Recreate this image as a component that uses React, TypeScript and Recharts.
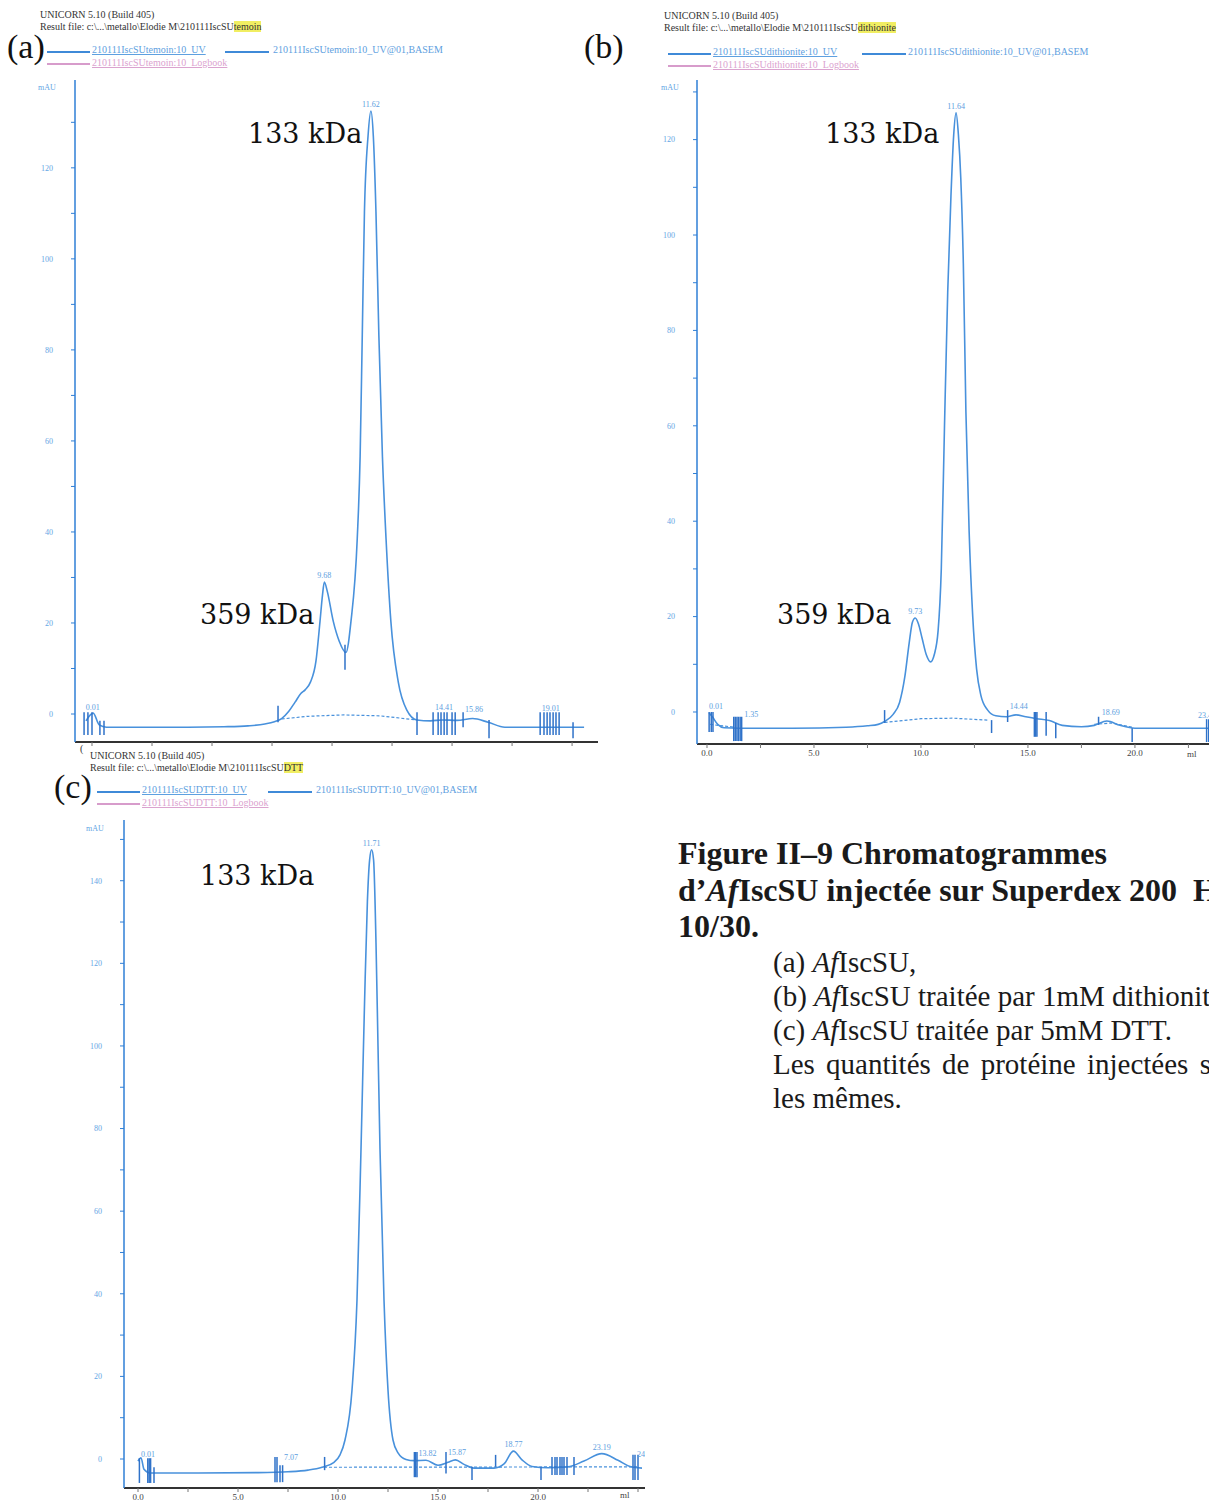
import React from 'react';
import { ComposedChart, Line, XAxis, YAxis, ReferenceLine, Scatter } from 'recharts';

// ---------- Panel (a) : AfIscSU (temoin) ----------
const mlA = [-0.25, 0.05, 0.3, 0.6, 2.0, 4.0, 5.5, 6.5, 7.2, 7.6, 7.9, 8.2, 8.46, 8.7, 8.88, 9.1, 9.33, 9.5, 9.6, 9.68, 9.8, 10.05, 10.3, 10.58, 10.79, 11.05, 11.17, 11.26, 11.35, 11.5, 11.62, 11.72, 11.83, 11.95, 12.1, 12.25, 12.45, 12.76, 13.11, 13.53, 14.1, 14.6, 15.2, 15.86, 16.5, 17.2, 18.0, 20.5];
const uvA = [-1.5, 0.2, -2.4, -2.9, -2.9, -2.9, -2.8, -2.6, -2.2, -1.7, -1.0, 0.6, 2.6, 4.5, 5.3, 7.0, 11.6, 20.4, 26.0, 29.0, 27.0, 20.4, 16.0, 13.5, 20.4, 38.5, 56.5, 83.3, 110.3, 127, 132.5, 127, 110.3, 83.3, 56.5, 38.5, 20.4, 7.0, 0.9, -1.3, -1.5, -1.3, -1.4, -1.0, -1.8, -2.9, -2.9, -2.9];
const baseMlA = [7.9, 9.0, 10.5, 12.0, 13.5];
const baseUvA = [-1.1, -0.5, -0.2, -0.4, -1.3];
const markMlA = [-0.33, -0.17, 0, 0.33, 0.5, 7.75, 10.54, 13.54, 14.21, 14.42, 14.54, 14.67, 14.79, 15.0, 15.13, 15.46, 16.54, 18.67, 18.83, 18.96, 19.08, 19.21, 19.33, 19.46, 20.04];
const markTopA = [0.4, 0.4, 0.4, -1.5, -1.5, 1.8, 15.2, 0.4, 0.4, 0.4, 0.4, 0.4, 0.4, 0.4, 0.4, 0.4, -1.3, 0.4, 0.4, 0.4, 0.4, 0.4, 0.4, 0.4, -1.8];
const markBotA = [-4.6, -4.6, -4.6, -4.6, -4.6, -1.8, 9.7, -4.6, -4.6, -4.6, -4.6, -4.6, -4.6, -4.6, -4.6, -2.9, -5.3, -4.6, -4.6, -4.6, -4.6, -4.6, -4.6, -4.6, -5.3];
const peaksA: [number, number, string][] = [[9.68, 29.0, '9.68'], [11.62, 132.5, '11.62']];
const fracsA: [number, number, string][] = [[-0.3, 0.6, '0.01'], [14.25, 0.6, '14.41'], [15.5, 0.2, '15.86'], [18.7, 0.4, '19.01']];

// ---------- Panel (b) : dithionite ----------
const mlB = [0.1, 0.25, 0.5, 0.8, 1.5, 4.0, 6.5, 7.5, 8.0, 8.3, 8.7, 9.0, 9.25, 9.45, 9.6, 9.73, 9.88, 10.05, 10.25, 10.45, 10.62, 10.8, 10.95, 11.1, 11.25, 11.4, 11.53, 11.64, 11.75, 11.86, 11.98, 12.1, 12.25, 12.42, 12.6, 12.8, 13.1, 13.5, 14.0, 14.44, 14.9, 15.4, 16.0, 16.6, 17.5, 18.1, 18.69, 19.3, 20.0, 24.5];
const uvB = [-0.2, -1.0, -2.6, -3.3, -3.4, -3.4, -3.2, -2.9, -2.6, -2.0, -0.5, 2.0, 7.5, 14.5, 18.8, 19.7, 18.5, 15.5, 12.0, 10.5, 12.0, 17.0, 30.0, 60.0, 88.0, 108.0, 121.0, 125.6, 121.0, 112.0, 94.0, 63.0, 38.0, 20.0, 9.0, 3.5, 0.5, -0.8, -1.0, -0.6, -1.0, -1.4, -1.8, -2.8, -3.1, -2.8, -1.9, -2.8, -3.4, -3.4];
const baseMlB = [0.15, 1.3, 1.31, 8.3, 10.0, 11.5, 13.1, 13.11, 18.1, 18.9, 19.9];
const baseUvB: (number | null)[] = [-2.6, -3.2, null, -2.2, -1.4, -1.3, -1.7, null, -2.6, -2.3, -3.2];
const markMlB = [0.1, 0.2, 0.28, 1.25, 1.32, 1.4, 1.47, 1.55, 1.62, 8.3, 13.3, 14.05, 15.3, 15.36, 15.42, 15.85, 16.3, 18.3, 19.87, 23.35, 23.45, 23.55];
const markTopB = [0, 0, 0, -1.0, -1.0, -1.0, -1.0, -1.0, -1.0, 0.4, -1.7, 0.4, 0, 0, 0, 0, -2.3, -1.0, -3.4, -1.5, -1.5, -1.5];
const markBotB = [-4.2, -4.2, -4.2, -6.1, -6.1, -6.1, -6.1, -6.1, -6.1, -2.3, -4.4, -2.1, -5.2, -5.2, -5.2, -5.0, -5.5, -2.7, -6.3, -6.3, -6.3, -6.3];
const peaksB: [number, number, string][] = [[9.73, 19.7, '9.73'], [11.64, 125.6, '11.64']];
const fracsB: [number, number, string][] = [[0.05, 0.4, '0.01'], [1.7, -1.2, '1.35'], [14.1, 0.4, '14.44'], [18.4, -0.8, '18.69'], [22.9, -1.5, '23.46']];

// ---------- Panel (c) : DTT ----------
const mlC = [0.0, 0.15, 0.3, 0.6, 3.0, 6.0, 7.5, 8.5, 9.2, 9.8, 10.1, 10.35, 10.7, 10.95, 11.15, 11.33, 11.47, 11.58, 11.68, 11.78, 11.9, 12.0, 12.1, 12.3, 12.5, 12.75, 13.0, 13.4, 13.82, 14.4, 15.0, 15.5, 15.87, 16.3, 16.8, 17.8, 18.3, 18.77, 19.2, 19.7, 20.5, 21.5, 22.3, 23.19, 24.0, 24.6, 25.2];
const uvC = [-0.5, 0.3, -2.5, -3.4, -3.4, -3.3, -3.1, -2.7, -2.0, -0.8, 1.0, 4.6, 16.7, 38.5, 75.0, 111.0, 135.0, 145.0, 147.5, 145.0, 125.0, 100.0, 75.0, 38.5, 16.7, 4.6, 1.5, -0.1, -0.4, -0.3, -1.5, -0.8, -0.2, -1.3, -2.2, -2.2, -1.2, 1.9, -0.2, -1.8, -2.1, -1.9, -0.5, 1.3, -0.3, -1.8, -2.2];
const baseMlC = [9.3, 25.0];
const baseUvC = [-2.0, -1.9];
const markMlC = [0.07, 0.49, 0.56, 0.63, 0.8, 6.85, 6.95, 7.1, 7.23, 9.33, 13.82, 13.88, 13.95, 15.4, 16.7, 17.88, 20.15, 20.7, 20.85, 20.95, 21.1, 21.2, 21.3, 21.45, 21.8, 24.75, 24.85, 25.0];
const markTopC = [0.2, 0.2, 0.2, 0.2, -2.0, 0.5, 0.5, -1.5, -1.5, 0.5, 1.7, 1.7, 1.7, 1.7, -1.9, 1.0, -1.9, 0.5, 0.5, 0.5, 0.5, 0.5, 0.5, 0.5, 0.5, 1.0, 1.0, 1.0];
const markBotC = [-5.8, -5.8, -5.8, -5.8, -5.8, -5.6, -5.6, -5.6, -5.6, -2.7, -4.4, -4.4, -4.4, -3.5, -5.1, -1.9, -5.1, -3.9, -3.9, -3.9, -3.9, -3.9, -3.9, -3.9, -3.9, -5.1, -5.1, -5.1];
const peaksC: [number, number, string][] = [[11.68, 147.5, '11.71'], [18.77, 1.9, '18.77'], [23.19, 1.3, '23.19']];
const fracsC: [number, number, string][] = [[0.1, 0.3, '0.01'], [7.25, -0.5, '7.07'], [13.98, 0.5, '13.82'], [15.45, 0.8, '15.87'], [24.9, 0.3, '24.77']];

// ---------- axis ticks ----------
const xTicksA = [0, 2.5, 5, 7.5, 10, 12.5, 15, 17.5, 20];
const xTicksB = [0, 2.5, 5, 7.5, 10, 12.5, 15, 17.5, 20, 22.5];
const xTicksC = [0, 2.5, 5, 7.5, 10, 12.5, 15, 17.5, 20, 22.5, 25];
const xLabelMax = 20;
const yTicksAB = [0, 10, 20, 30, 40, 50, 60, 70, 80, 90, 100, 110, 120, 130];
const yTicksC = [0, 10, 20, 30, 40, 50, 60, 70, 80, 90, 100, 110, 120, 130, 140, 150];

const CURVE = '#4891dc';
const MARK = '#2f72c9';
const LBL = '#5c9ee0';
const YAX = '#2f7fd6';
const SERIF = '"Liberation Serif", "Times New Roman", serif';

const PeakText = (p: any) => (
  <text x={p.cx} y={p.cy - 4} textAnchor="middle" fontSize={8} fill={LBL} fontFamily={SERIF}>{p.payload.t}</text>
);
const FracText = (p: any) => (
  <text x={p.cx + 1} y={p.cy - 1} textAnchor="start" fontSize={8} fill={LBL} fontFamily={SERIF}>{p.payload.t}</text>
);

type PanelProps = {
  left: number; top: number; width: number; height: number;
  xDomain: [number, number]; yDomain: [number, number];
  xTicks: number[]; yTicks: number[]; showX: boolean;
  ml: number[]; uv: number[]; baseMl: number[]; baseUv: (number | null)[];
  markMl: number[]; markTop: number[]; markBot: number[];
  peaks: [number, number, string][]; fracs: [number, number, string][];
};

function Panel(p: PanelProps) {
  const rows = p.ml.map((m, i) => ({ ml: m, uv: p.uv[i] }));
  const base = p.baseMl.map((m, i) => ({ ml: m, uv: p.baseUv[i] }));
  const peakRows = p.peaks.map(([m, v, t]) => ({ ml: m, uv: v, t }));
  const fracRows = p.fracs.map(([m, v, t]) => ({ ml: m, uv: v, t }));
  return (
    <div style={{ position: 'absolute', left: p.left, top: p.top }}>
      <ComposedChart width={p.width} height={p.height} data={rows} margin={{ top: 10, right: 10, bottom: 0, left: 0 }}>
        <XAxis type="number" dataKey="ml" domain={p.xDomain} allowDataOverflow ticks={p.xTicks} interval={0}
          tickFormatter={(v: number) => (p.showX && v % 5 === 0 && v <= xLabelMax ? v.toFixed(1) : '')}
          tick={{ fontSize: 9, fill: '#444', fontFamily: SERIF }} tickSize={4}
          axisLine={{ stroke: '#333', strokeWidth: 2 }} tickLine={{ stroke: '#777' }} height={25} />
        <YAxis type="number" domain={p.yDomain} allowDataOverflow ticks={p.yTicks} interval={0} width={50}
          tickFormatter={(v: number) => (v % 20 === 0 ? String(v) : '')}
          tick={{ fontSize: 8, fill: '#64a5e4', fontFamily: SERIF }} tickSize={4} tickMargin={18}
          axisLine={{ stroke: YAX, strokeWidth: 1.5 }} tickLine={{ stroke: YAX }} />
        <Line data={base} dataKey="uv" stroke={CURVE} strokeWidth={1.2} strokeDasharray="3 2" dot={false} isAnimationActive={false} connectNulls={false} />
        <Line dataKey="uv" stroke={CURVE} strokeWidth={1.6} dot={false} isAnimationActive={false} type="monotone" />
        {p.markMl.map((m, i) => (
          <ReferenceLine key={'mk' + i} segment={[{ x: m, y: p.markTop[i] }, { x: m, y: p.markBot[i] }]} stroke={MARK} strokeWidth={1.5} ifOverflow="visible" />
        ))}
        <Scatter data={peakRows} dataKey="uv" shape={PeakText} isAnimationActive={false} />
        <Scatter data={fracRows} dataKey="uv" shape={FracText} isAnimationActive={false} />
      </ComposedChart>
    </div>
  );
}

const T = (props: { x: number; y: number; size: number; children: React.ReactNode; family?: string; color?: string; weight?: number; style?: React.CSSProperties }) => (
  <div style={{ position: 'absolute', left: props.x, top: props.y, fontSize: props.size, lineHeight: 1, fontFamily: props.family || SERIF, color: props.color || '#111', fontWeight: props.weight || 400, whiteSpace: 'nowrap', ...(props.style || {}) }}>{props.children}</div>
);

const PATH = 'Result file: c:\\...\\metallo\\Elodie M\\210111IscSU';

function Header({ x, y, hl }: { x: number; y: number; hl: string }) {
  return (
    <div style={{ position: 'absolute', left: x, top: y, fontFamily: SERIF, fontSize: 10, lineHeight: '12px', color: '#333', whiteSpace: 'nowrap' }}>
      <div>UNICORN 5.10 (Build 405)</div>
      <div>{PATH}<span style={{ background: '#f1ee62' }}>{hl}</span></div>
    </div>
  );
}

function Legend({ x, y, name, l2, t2 }: { x: number; y: number; name: string; l2: number; t2: number }) {
  const txt: React.CSSProperties = { position: 'absolute', fontFamily: SERIF, fontSize: 10, lineHeight: '10px', whiteSpace: 'nowrap' };
  return (
    <div style={{ position: 'absolute', left: x, top: y, width: 10, height: 10 }}>
      <div style={{ position: 'absolute', left: 0, top: 0, width: 43, height: 1.5, background: '#3f8ad8' }} />
      <div style={{ ...txt, left: 45, top: -6, color: '#5ea0e0', textDecoration: 'underline' }}>{`210111IscSU${name}:10_UV`}</div>
      <div style={{ position: 'absolute', left: l2, top: 0, width: 44, height: 1.5, background: '#3f8ad8' }} />
      <div style={{ ...txt, left: t2, top: -6, color: '#5ea0e0' }}>{`210111IscSU${name}:10_UV@01,BASEM`}</div>
      <div style={{ position: 'absolute', left: 0, top: 12, width: 43, height: 1.5, background: '#d79ccb' }} />
      <div style={{ ...txt, left: 45, top: 7, color: '#dba3cf', textDecoration: 'underline' }}>{`210111IscSU${name}:10_Logbook`}</div>
    </div>
  );
}

export default function App() {
  return (
    <div style={{ position: 'absolute', left: 0, top: 0, width: 1209, height: 1501, overflow: 'hidden', background: '#fff' }}>
      <Panel left={25} top={70} width={583} height={697} xDomain={[-0.708, 21.08]} yDomain={[-6.15, 139.3]}
        xTicks={xTicksA} yTicks={yTicksAB} showX={false} ml={mlA} uv={uvA} baseMl={baseMlA} baseUv={baseUvA}
        markMl={markMlA} markTop={markTopA} markBot={markBotA} peaks={peaksA} fracs={fracsA} />
      <Panel left={647} top={70} width={603} height={699} xDomain={[-0.467, 24.91]} yDomain={[-6.71, 132.5]}
        xTicks={xTicksB} yTicks={yTicksAB} showX={true} ml={mlB} uv={uvB} baseMl={baseMlB} baseUv={baseUvB}
        markMl={markMlB} markTop={markTopB} markBot={markBotB} peaks={peaksB} fracs={fracsB} />
      <div style={{ position: 'absolute', left: 70, top: 746, width: 580, height: 70, background: '#fff' }} />
      <Panel left={74} top={810} width={581} height={703} xDomain={[-0.7, 25.35]} yDomain={[-7.02, 154.7]}
        xTicks={xTicksC} yTicks={yTicksC} showX={true} ml={mlC} uv={uvC} baseMl={baseMlC} baseUv={baseUvC}
        markMl={markMlC} markTop={markTopC} markBot={markBotC} peaks={peaksC} fracs={fracsC} />

      <Header x={40} y={9} hl="temoin" />
      <Header x={664} y={10} hl="dithionite" />
      <Header x={90} y={750} hl="DTT" />
      <T x={80} y={744} size={10} color="#333">(</T>

      <Legend x={47} y={51} name="temoin" l2={178} t2={226} />
      <Legend x={668} y={53} name="dithionite" l2={194} t2={240} />
      <Legend x={97} y={791} name="DTT" l2={171} t2={219} />

      <T x={38} y={84} size={8} color="#64a5e4">mAU</T>
      <T x={661} y={84} size={8} color="#64a5e4">mAU</T>
      <T x={86} y={825} size={8} color="#64a5e4">mAU</T>
      <T x={1187} y={750} size={9} color="#444">ml</T>
      <T x={620} y={1491} size={9} color="#444">ml</T>

      <T x={7} y={30} size={34}>(a)</T>
      <T x={584} y={30} size={34}>(b)</T>
      <T x={54} y={770} size={34}>(c)</T>

      <T x={248} y={120} size={27} family='"DejaVu Serif", serif'>133 kDa</T>
      <T x={200} y={601} size={27} family='"DejaVu Serif", serif'>359 kDa</T>
      <T x={825} y={120} size={27} family='"DejaVu Serif", serif'>133 kDa</T>
      <T x={777} y={601} size={27} family='"DejaVu Serif", serif'>359 kDa</T>
      <T x={200} y={862} size={27} family='"DejaVu Serif", serif'>133 kDa</T>

      <div style={{ position: 'absolute', left: 678, top: 835, fontFamily: SERIF, fontWeight: 700, fontSize: 32, lineHeight: '36.5px', color: '#1a1a1a', whiteSpace: 'nowrap' }}>
        <div>Figure II–9 Chromatogrammes</div>
        <div>d’<i>Af</i>IscSU injectée sur Superdex 200&nbsp; HR</div>
        <div>10/30.</div>
      </div>
      <div style={{ position: 'absolute', left: 773, top: 945, fontFamily: SERIF, fontSize: 29, lineHeight: '34px', color: '#1a1a1a', whiteSpace: 'nowrap' }}>
        <div>(a) <i>Af</i>IscSU,</div>
        <div>(b) <i>Af</i>IscSU traitée par 1mM dithionite</div>
        <div>(c) <i>Af</i>IscSU traitée par 5mM DTT.</div>
        <div style={{ width: 475, textAlign: 'justify', textAlignLast: 'justify' }}>Les quantités de protéine injectées sont</div>
        <div>les mêmes.</div>
      </div>
    </div>
  );
}
